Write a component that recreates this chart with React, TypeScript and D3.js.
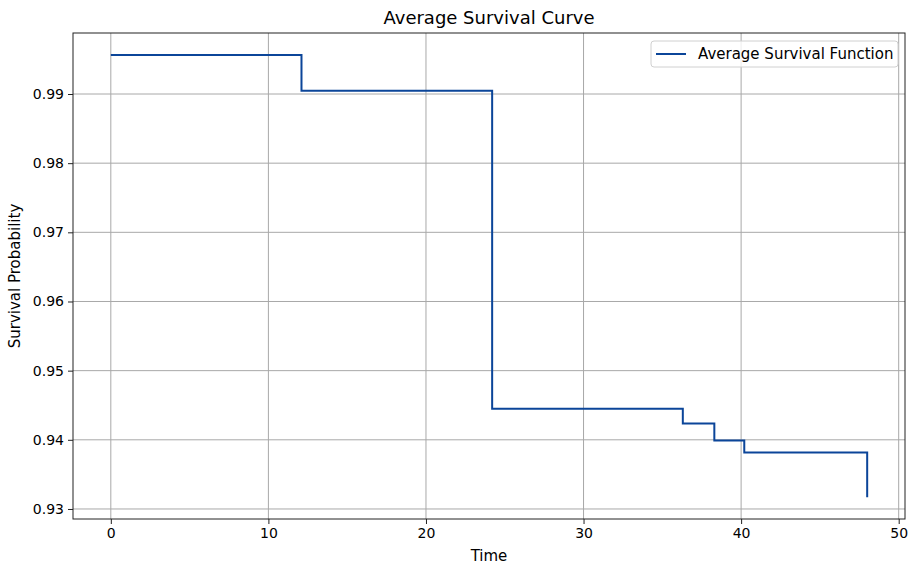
import { useRef, useEffect } from 'react';
import * as d3 from 'd3';

// step times and survival values
const times = [0, 12.1, 24.2, 36.3, 38.3, 40.2, 48];
const survival = [0.99564, 0.99048, 0.9445, 0.94236, 0.9399, 0.93817, 0.9317];
const xTicks = [0, 10, 20, 30, 40, 50];
const yTicks = [0.93, 0.94, 0.95, 0.96, 0.97, 0.98, 0.99];

const W = 912;
const H = 564;
const margin = { left: 73, right: 7, top: 33, bottom: 45 };
const font = 'DejaVu Sans, sans-serif';
const blue = '#0b4599';

const App = () => {
  const svgRef = useRef<SVGSVGElement>(null);

  useEffect(() => {
    const svg = d3.select(svgRef.current);
    svg.selectAll('*').remove();

    const x = d3
      .scaleLinear()
      .domain([-2.4, 50.4])
      .range([margin.left, W - margin.right]);
    const y = d3
      .scaleLinear()
      .domain([0.92855, 0.99882])
      .range([H - margin.bottom, margin.top]);

    const plot = svg.append('g');

    // grid
    plot
      .selectAll('.gx')
      .data(xTicks)
      .join('line')
      .attr('x1', (d) => x(d))
      .attr('x2', (d) => x(d))
      .attr('y1', margin.top)
      .attr('y2', H - margin.bottom)
      .attr('stroke', '#a8a8a8')
      .attr('stroke-width', 1);
    plot
      .selectAll('.gy')
      .data(yTicks)
      .join('line')
      .attr('x1', margin.left)
      .attr('x2', W - margin.right)
      .attr('y1', (d) => y(d))
      .attr('y2', (d) => y(d))
      .attr('stroke', '#a8a8a8')
      .attr('stroke-width', 1);

    const pts: [number, number][] = times.map((t, i) => [t, survival[i]]);
    const line = d3
      .line<[number, number]>()
      .x((d) => x(d[0]))
      .y((d) => y(d[1]))
      .curve(d3.curveStepAfter);

    plot
      .append('path')
      .datum(pts)
      .attr('d', line)
      .attr('fill', 'none')
      .attr('stroke', blue)
      .attr('stroke-width', 2);

    // frame
    svg
      .append('rect')
      .attr('x', margin.left)
      .attr('y', margin.top)
      .attr('width', W - margin.left - margin.right)
      .attr('height', H - margin.top - margin.bottom)
      .attr('fill', 'none')
      .attr('stroke', '#222')
      .attr('stroke-width', 1);

    const xAxis = d3.axisBottom(x).tickValues(xTicks).tickSize(5).tickSizeOuter(0).tickPadding(4);
    const gx = svg
      .append('g')
      .attr('transform', `translate(0,${H - margin.bottom})`)
      .call(xAxis);
    const yAxis = d3
      .axisLeft(y)
      .tickValues(yTicks)
      .tickSize(5)
      .tickSizeOuter(0)
      .tickPadding(4)
      .tickFormat(d3.format('.2f'));
    const gy = svg.append('g').attr('transform', `translate(${margin.left},0)`).call(yAxis);

    [gx, gy].forEach((g) => {
      g.select('.domain').remove();
      g.selectAll('text').attr('font-family', font).attr('font-size', 14).attr('fill', '#000');
      g.selectAll('line').attr('stroke', '#222');
    });

    svg
      .append('text')
      .attr('x', (margin.left + W - margin.right) / 2)
      .attr('y', 24)
      .attr('text-anchor', 'middle')
      .attr('font-family', font)
      .attr('font-size', 18)
      .text('Average Survival Curve');

    svg
      .append('text')
      .attr('x', (margin.left + W - margin.right) / 2)
      .attr('y', 561)
      .attr('text-anchor', 'middle')
      .attr('font-family', font)
      .attr('font-size', 15)
      .text('Time');

    svg
      .append('text')
      .attr('transform', `translate(20,${(margin.top + H - margin.bottom) / 2}) rotate(-90)`)
      .attr('text-anchor', 'middle')
      .attr('font-family', font)
      .attr('font-size', 15)
      .text('Survival Probability');

    // legend
    const lg = svg.append('g').attr('transform', 'translate(651,41)');
    lg.append('rect')
      .attr('width', 247)
      .attr('height', 26)
      .attr('rx', 3)
      .attr('fill', '#fff')
      .attr('fill-opacity', 0.8)
      .attr('stroke', '#d0d0d0');
    lg.append('line')
      .attr('x1', 5)
      .attr('x2', 35)
      .attr('y1', 13)
      .attr('y2', 13)
      .attr('stroke', blue)
      .attr('stroke-width', 2);
    lg.append('text')
      .attr('x', 47)
      .attr('y', 18)
      .attr('font-family', font)
      .attr('font-size', 15)
      .text('Average Survival Function');
  }, []);

  return (
    <svg
      ref={svgRef}
      width={W}
      height={H}
      style={{ position: 'absolute', left: 0, top: 0, background: '#fff' }}
    />
  );
};

export default App;
